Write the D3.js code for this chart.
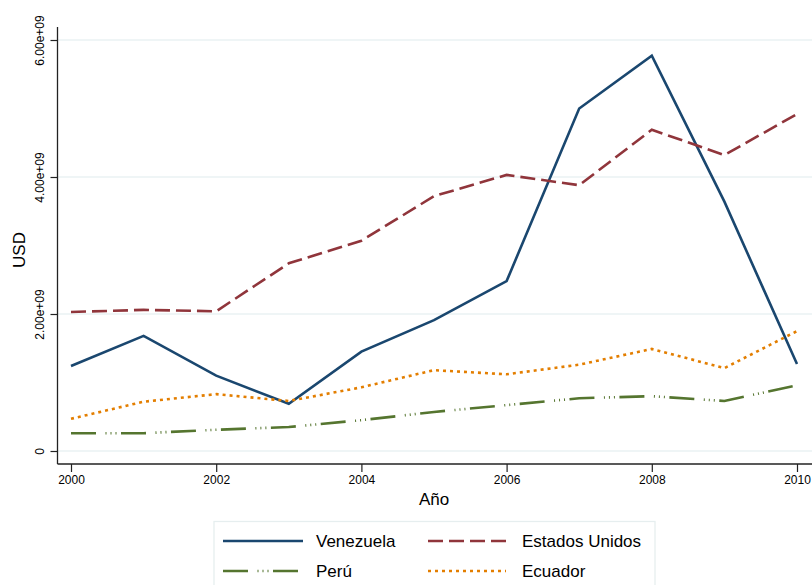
<!DOCTYPE html>
<html>
<head>
<meta charset="utf-8">
<script src="https://cdn.jsdelivr.net/npm/d3@7"></script>
<style>
  html, body { margin: 0; padding: 0; background: #ffffff; }
  svg { display: block; font-family: "Liberation Sans", Arial, Helvetica, sans-serif; }
</style>
</head>
<body>
<svg id="chart" width="812" height="585"></svg>
<script>
// Annual values in USD, 2000–2010
const years = [2000, 2001, 2002, 2003, 2004, 2005, 2006, 2007, 2008, 2009, 2010];
const venezuela = [1.24e9, 1.68e9, 1.10e9, 0.69e9, 1.45e9, 1.91e9, 2.48e9, 5.00e9, 5.77e9, 3.64e9, 1.27e9];
const estadosUnidos = [2.03e9, 2.06e9, 2.04e9, 2.74e9, 3.07e9, 3.72e9, 4.03e9, 3.88e9, 4.69e9, 4.32e9, 4.92e9];
const peru = [0.26e9, 0.26e9, 0.31e9, 0.35e9, 0.45e9, 0.57e9, 0.67e9, 0.77e9, 0.80e9, 0.73e9, 0.96e9];
const ecuador = [0.47e9, 0.72e9, 0.83e9, 0.73e9, 0.93e9, 1.18e9, 1.12e9, 1.26e9, 1.49e9, 1.21e9, 1.75e9];

const xTicks = [2000, 2002, 2004, 2006, 2008, 2010];
const yTicks = [0, 2e9, 4e9, 6e9];
const yTickLabels = ["0", "2.00e+09", "4.00e+09", "6.00e+09"];

const series = [
  { name: "Venezuela", values: venezuela, color: "#1a476f", dash: null },
  { name: "Estados Unidos", values: estadosUnidos, color: "#90353b", dash: "15,6" },
  { name: "Perú", values: peru, color: "#55752f", dash: "25,9.5,1,4,1,4,1,4.5" },
  { name: "Ecuador", values: ecuador, color: "#e37e00", dash: "3,4" }
];

const svg = d3.select("#chart");

const x = d3.scaleLinear().domain([2000, 2010]).range([71, 797]);
const y = d3.scaleLinear().domain([0, 6e9]).range([451, 40]);

const axisX = 57.5, axisY = 464;

// horizontal grid lines
svg.append("g")
  .selectAll("line")
  .data(yTicks)
  .join("line")
  .attr("x1", axisX).attr("x2", 812)
  .attr("y1", d => y(d)).attr("y2", d => y(d))
  .attr("stroke", "#eaf2f3")
  .attr("stroke-width", 1.6);

// y axis
const yAxis = d3.axisLeft(y)
  .tickValues(yTicks)
  .tickSize(7)
  .tickPadding(0)
  .tickFormat((d, i) => yTickLabels[i]);

const gy = svg.append("g")
  .attr("transform", `translate(${axisX},0)`)
  .call(yAxis);
gy.select(".domain").remove();
gy.selectAll(".tick line").attr("stroke", "#222").attr("stroke-width", 1.2);
gy.selectAll(".tick text")
  .attr("x", 0).attr("y", 0).attr("dy", null)
  .attr("transform", "translate(-14,0) rotate(-90)")
  .attr("text-anchor", "middle")
  .attr("font-size", 12)
  .attr("fill", "#000");
svg.append("line")
  .attr("x1", axisX).attr("x2", axisX)
  .attr("y1", 27).attr("y2", axisY)
  .attr("stroke", "#222").attr("stroke-width", 1.3);

// x axis
const xAxis = d3.axisBottom(x)
  .tickValues(xTicks)
  .tickSize(8)
  .tickPadding(3)
  .tickFormat(d3.format("d"));

const gx = svg.append("g")
  .attr("transform", `translate(0,${axisY})`)
  .call(xAxis);
gx.select(".domain").remove();
gx.selectAll(".tick line").attr("stroke", "#222").attr("stroke-width", 1.2);
gx.selectAll(".tick text")
  .attr("font-size", 12)
  .attr("fill", "#000");
svg.append("line")
  .attr("x1", axisX).attr("x2", 812)
  .attr("y1", axisY).attr("y2", axisY)
  .attr("stroke", "#222").attr("stroke-width", 1.3);

// axis titles
svg.append("text")
  .attr("transform", "translate(25,250) rotate(-90)")
  .attr("text-anchor", "middle")
  .attr("font-size", 17)
  .attr("fill", "#000")
  .text("USD");

svg.append("text")
  .attr("x", (x(2000) + x(2010)) / 2)
  .attr("y", 505)
  .attr("text-anchor", "middle")
  .attr("font-size", 17)
  .attr("fill", "#000")
  .text("Año");

// data lines
const line = d3.line()
  .x((d, i) => x(years[i]))
  .y(d => y(d));

svg.append("g")
  .selectAll("path")
  .data(series)
  .join("path")
  .attr("d", d => line(d.values))
  .attr("fill", "none")
  .attr("stroke", d => d.color)
  .attr("stroke-width", 2.6)
  .attr("stroke-linejoin", "miter")
  .attr("stroke-dasharray", d => d.dash);

// legend
const legend = svg.append("g");
legend.append("rect")
  .attr("x", 214).attr("y", 521.5)
  .attr("width", 441).attr("height", 80)
  .attr("fill", "#fff")
  .attr("stroke", "#e6eeef")
  .attr("stroke-width", 1.3);

const legendPos = [
  { lx: 223, ly: 541, tx: 316, len: 80 },
  { lx: 428, ly: 541, tx: 522, len: 80 },
  { lx: 223, ly: 571, tx: 316, len: 75 },
  { lx: 428, ly: 571, tx: 522, len: 78 }
];

series.forEach((s, i) => {
  const p = legendPos[i];
  legend.append("line")
    .attr("x1", p.lx).attr("x2", p.lx + p.len)
    .attr("y1", p.ly).attr("y2", p.ly)
    .attr("stroke", s.color)
    .attr("stroke-width", 2.6)
    .attr("stroke-dasharray", s.dash);
  legend.append("text")
    .attr("x", p.tx).attr("y", p.ly + 6)
    .attr("font-size", 17)
    .attr("fill", "#000")
    .text(s.name);
});
</script>
</body>
</html>
